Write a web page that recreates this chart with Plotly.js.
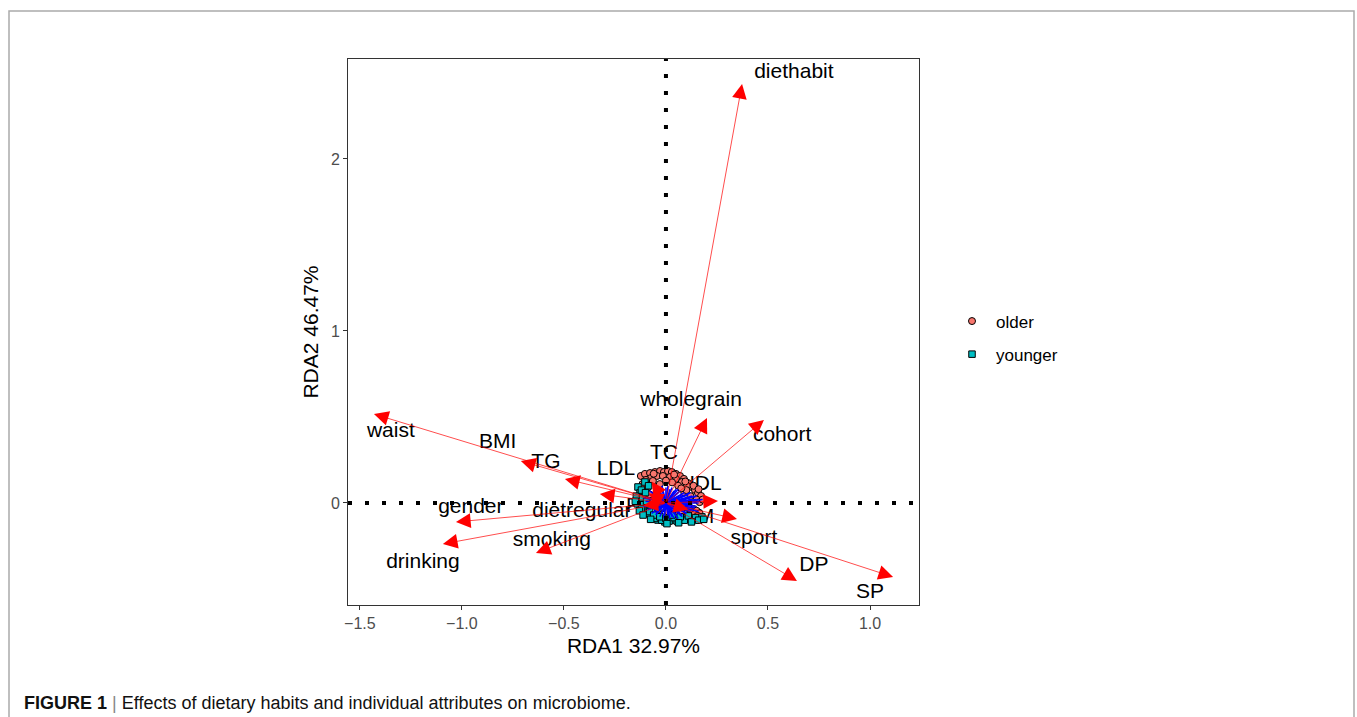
<!DOCTYPE html>
<html>
<head>
<meta charset="utf-8">
<script src="https://cdn.plot.ly/plotly-3.0.1.min.js"></script>
<style>html,body{margin:0;padding:0;background:#fff;}#chart{width:1357px;height:717px;}</style>
</head>
<body>
<div id="chart"></div>
<script>
// Environmental variable arrows (RDA biplot scores)
const envNames = ['diethabit','wholegrain','cohort','waist','BMI','TG','LDL','TC','HDL','FBG','DM','sport','DP','SP','gender','dietregular','drinking','smoking'];
const envTipX  = [0.373, 0.201, 0.480, -1.431, -0.711, -0.495, -0.324, -0.070, 0.255, -0.085, 0.110, 0.348, 0.642, 1.113, -1.029, -0.110, -1.093, -0.637];
const envTipY  = [2.436, 0.494, 0.483, 0.517, 0.244, 0.140, 0.052, 0.125, 0.012, 0.055, -0.040, -0.093, -0.453, -0.430, -0.110, -0.015, -0.238, -0.291];
const envLabX  = [0.627, 0.123, 0.569, -1.348, -0.824, -0.588, -0.245, -0.010, 0.170, -0.090, 0.157, 0.431, 0.725, 1.000, -0.956, -0.412, -1.191, -0.559];
const envLabY  = [2.500, 0.593, 0.390, 0.413, 0.349, 0.233, 0.192, 0.285, 0.105, -0.023, -0.087, -0.209, -0.366, -0.523, -0.029, -0.052, -0.349, -0.221];

// Sample site scores
const olderX = [-0.123,-0.103,-0.078,-0.054,-0.029,-0.010,0.010,0.029,0.049,0.069,0.088,0.108,0.127,0.142,0.157,0.172,-0.074,-0.044,-0.015,0.020,0.049,0.078,0.103,-0.098,-0.064,
                0.150,0.165,0.135,0.120,0.150,0.165,0.140,0.110,0.090,0.120,0.060,0.030,-0.030,0.000,0.100,0.075,-0.090,0.050,0.010,-0.040,-0.080,
                -0.115,-0.060,0.040,0.095,0.135,0.160,0.180,0.155];
const olderY = [0.157,0.169,0.174,0.180,0.186,0.180,0.186,0.180,0.169,0.157,0.140,0.116,0.093,0.076,0.058,0.041,0.145,0.157,0.157,0.151,0.140,0.122,0.099,0.134,0.128,
                0.020,0.005,-0.035,-0.050,-0.045,-0.060,-0.065,-0.030,0.060,0.040,0.100,0.120,0.110,0.130,0.075,0.085,0.090,-0.060,-0.050,-0.040,0.050,
                0.110,0.170,0.165,0.125,0.100,0.080,0.020,-0.075];
const youngerX = [-0.137,-0.127,-0.137,-0.127,-0.103,-0.069,-0.039,-0.005,0.034,0.078,0.103,0.127,-0.103,0.176,
                  -0.145,-0.140,-0.120,-0.115,-0.110,-0.120,-0.090,-0.080,-0.055,-0.020,0.015,0.055,0.090,0.110,0.145,0.160,-0.060,-0.030,0.000,0.040,0.070,-0.095,-0.100,-0.085,0.030,-0.130,
                  -0.150,-0.112,-0.075,0.005,0.062,0.125,0.185];
const youngerY = [0.093,0.058,0.017,-0.023,-0.041,-0.081,-0.099,-0.110,-0.099,-0.093,-0.087,-0.099,0.122,-0.081,
                  0.040,-0.005,0.075,0.030,-0.010,-0.035,-0.060,-0.050,-0.090,-0.100,-0.105,-0.105,-0.100,-0.075,-0.085,-0.100,-0.070,-0.080,-0.090,-0.085,-0.080,0.010,0.060,0.100,-0.070,-0.045,
                  0.010,-0.070,-0.095,-0.120,-0.115,-0.110,-0.095];

// Species scores (blue spokes)
const sppX = [0.10,0.12,0.14,0.13,0.11,0.09,0.07,0.05,0.03,0.01,-0.02,-0.04,-0.06,-0.08,-0.09,-0.10,-0.09,-0.08,-0.06,-0.04,-0.02,0.00,0.02,0.04,0.06,0.08,0.09,0.11,0.13,0.15,0.16,0.12,0.08,-0.05,-0.07,0.05,0.03,-0.03,0.07,-0.11,0.10,0.06,-0.01,0.14,0.12,
              0.17,0.15,0.13,0.10,0.08,0.06,0.04,0.02,-0.01,-0.03,-0.05,-0.07,-0.09,-0.10,-0.11,-0.08,-0.06,-0.04,-0.02,0.01,0.03,0.05,0.07,0.09,0.11,0.13,0.15,0.12,0.18,0.16];
const sppY = [0.02,0.03,0.01,-0.01,-0.03,-0.05,-0.06,-0.07,-0.08,-0.07,-0.06,-0.05,-0.04,-0.03,-0.01,0.01,0.03,0.05,0.06,0.07,0.08,0.09,0.08,0.07,0.06,0.05,0.04,0.05,0.04,0.02,0.00,-0.05,-0.07,-0.06,0.02,0.03,-0.04,0.04,-0.02,-0.02,-0.06,0.08,-0.08,-0.03,0.06,
              0.01,-0.02,-0.04,-0.06,-0.08,-0.09,-0.09,-0.09,-0.09,-0.08,-0.07,-0.06,-0.04,-0.02,0.03,0.07,0.08,0.09,0.10,0.10,0.09,0.08,0.07,0.06,0.03,0.02,0.04,0.00,0.02,-0.05];

const groupNames = ['older','younger'];
const xTickVals = [-1.5,-1.0,-0.5,0.0,0.5,1.0];
const yTickVals = [0,1,2];
const xTitle = 'RDA1 32.97%';
const yTitle = 'RDA2 46.47%';
const caption = '<b>FIGURE 1</b> <span style="color:#888">|</span> Effects of dietary habits and individual attributes on microbiome.';

const FONT = 'Liberation Sans, Arial, sans-serif';

// spokes from origin
const spokeX = [], spokeY = [];
for (let i = 0; i < sppX.length; i++) { spokeX.push(0, sppX[i], null); spokeY.push(0, sppY[i], null); }

const traces = [
  {x: envLabX, y: envLabY, text: envNames, mode: 'text', type: 'scatter', textposition: 'middle center',
   textfont: {family: FONT, size: 21, color: '#000'}, showlegend: false, hoverinfo: 'skip', cliponaxis: false},
  {x: olderX, y: olderY, name: groupNames[0], mode: 'markers', type: 'scatter', legendgroup: 'a',
   marker: {symbol: 'circle', size: 7, color: '#F8766D', line: {color: '#000', width: 1}}},
  {x: youngerX, y: youngerY, name: groupNames[1], mode: 'markers', type: 'scatter', legendgroup: 'b',
   marker: {symbol: 'square', size: 6.5, color: '#00BFC4', line: {color: '#000', width: 1}}},
  {x: spokeX, y: spokeY, mode: 'lines', type: 'scatter', line: {color: '#0000FF', width: 1.6},
   showlegend: false, hoverinfo: 'skip'}
];

const annotations = envNames.map((n, i) => ({
  x: envTipX[i], y: envTipY[i], xref: 'x', yref: 'y', ax: 0, ay: 0, axref: 'x', ayref: 'y',
  text: '', showarrow: true, arrowhead: 2, arrowsize: 4.2, arrowwidth: 0.7, arrowcolor: '#FF0000', standoff: 0
}));
annotations.push({
  xref: 'paper', yref: 'paper', x: (22 - 348) / 571, y: (605 - 703) / 546, xanchor: 'left', yanchor: 'middle',
  text: caption, showarrow: false, font: {family: FONT, size: 18, color: '#111'}
});

const px = v => (v - 348) / 571;
const py = v => (605 - v) / 546;

const layout = {
  width: 1357, height: 717,
  margin: {l: 348, r: 438, t: 59, b: 112},
  paper_bgcolor: '#fff', plot_bgcolor: '#fff',
  font: {family: FONT, color: '#000'},
  showlegend: true,
  hovermode: false,
  legend: {x: px(948), y: py(338), xanchor: 'left', yanchor: 'middle', traceorder: 'grouped', tracegroupgap: 8,
           itemwidth: 38,
           font: {family: FONT, size: 17, color: '#000'}, bgcolor: 'rgba(0,0,0,0)'},
  xaxis: {range: [-1.558, 1.240], showgrid: false, zeroline: false, showline: true, mirror: true,
          linecolor: '#333', linewidth: 1, ticks: 'outside', ticklen: 4, tickcolor: '#333', tickwidth: 1,
          tickmode: 'array', tickvals: xTickVals, tickformat: '.1f',
          tickfont: {family: FONT, size: 16, color: '#4D4D4D'},
          title: {text: xTitle, font: {family: FONT, size: 21, color: '#000'}, standoff: 7}},
  yaxis: {range: [-0.593, 2.581], showgrid: false, zeroline: false, showline: true, mirror: true,
          linecolor: '#333', linewidth: 1, ticks: 'outside', ticklen: 4, tickcolor: '#333', tickwidth: 1,
          tickmode: 'array', tickvals: yTickVals, tickformat: 'd',
          tickfont: {family: FONT, size: 16, color: '#4D4D4D'},
          title: {text: yTitle, font: {family: FONT, size: 21, color: '#000'}, standoff: 6}},
  shapes: [
    {type: 'line', xref: 'x', yref: 'paper', x0: 0, x1: 0, y0: 0, y1: 1, layer: 'above',
     line: {color: '#000', width: 4, dash: '4px,13px'}},
    {type: 'line', xref: 'paper', yref: 'y', x0: 0, x1: 1, y0: 0, y1: 0, layer: 'above',
     line: {color: '#000', width: 4, dash: '4px,13px'}},
    {type: 'path', xref: 'paper', yref: 'paper', layer: 'above',
     path: 'M ' + px(9) + ' ' + py(725) + ' L ' + px(9) + ' ' + py(11) + ' L ' + px(1354) + ' ' + py(11) + ' L ' + px(1354) + ' ' + py(725),
     line: {color: '#AAAAAA', width: 1.5}}
  ],
  annotations: annotations
};

Plotly.newPlot('chart', traces, layout, {displayModeBar: false, staticPlot: true});
</script>
</body>
</html>
